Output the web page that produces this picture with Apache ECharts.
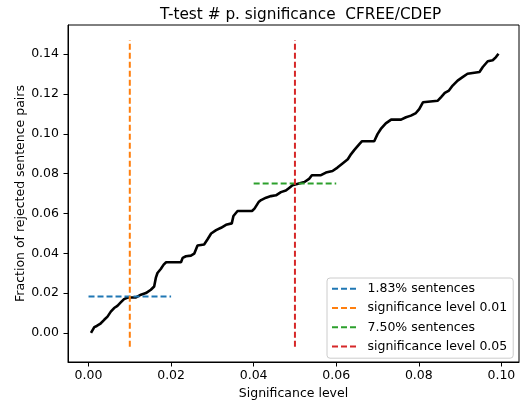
<!DOCTYPE html>
<html>
<head>
<meta charset="utf-8">
<script src="https://cdn.jsdelivr.net/npm/echarts@6/dist/echarts.min.js"></script>
<style>html,body{margin:0;padding:0;background:#fff}#c{width:521px;height:405px}</style>
</head>
<body>
<div id="c"></div>
<script>
// Cumulative fraction of rejected pairs vs significance level
const curveX = [0.0006,0.0014,0.0020,0.0028,0.0038,0.0046,0.0054,0.0062,0.0070,0.0078,0.0086,0.0095,0.0115,0.0127,0.0139,0.0151,0.0159,0.0163,0.0167,0.0175,0.0182,0.0188,0.0224,0.0228,0.0236,0.0248,0.0256,0.0264,0.0280,0.0288,0.0297,0.0309,0.0321,0.0333,0.0347,0.0351,0.0361,0.0396,0.0402,0.0412,0.0418,0.0430,0.0442,0.0454,0.0466,0.0478,0.0486,0.0494,0.0503,0.0506,0.0523,0.0535,0.0541,0.0563,0.0575,0.0591,0.0603,0.0616,0.0628,0.0636,0.0644,0.0656,0.0662,0.0692,0.0700,0.0708,0.0720,0.0733,0.0757,0.0769,0.0781,0.0793,0.0801,0.0810,0.0846,0.0854,0.0863,0.0873,0.0882,0.0894,0.0906,0.0918,0.0922,0.0947,0.0955,0.0967,0.0979,0.0987,0.0993];
const curveY = [0.0000,0.0029,0.0035,0.0045,0.0066,0.0082,0.0107,0.0125,0.0136,0.0153,0.0170,0.0178,0.0178,0.0192,0.0200,0.0217,0.0233,0.0276,0.0301,0.0321,0.0343,0.0355,0.0355,0.0377,0.0385,0.0388,0.0398,0.0439,0.0444,0.0469,0.0499,0.0516,0.0528,0.0543,0.0550,0.0587,0.0612,0.0612,0.0624,0.0657,0.0667,0.0679,0.0687,0.0691,0.0707,0.0715,0.0728,0.0741,0.0746,0.0751,0.0758,0.0775,0.0792,0.0792,0.0805,0.0813,0.0830,0.0852,0.0872,0.0898,0.0919,0.0948,0.0962,0.0962,0.0998,0.1024,0.1052,0.1071,0.1071,0.1083,0.1091,0.1104,0.1124,0.1158,0.1166,0.1184,0.1205,0.1217,0.1242,0.1267,0.1284,0.1301,0.1310,0.1310,0.1335,0.1364,0.1369,0.1385,0.1402];

// Reference lines
const blueX = [0, 0.02];     const blueY = [0.0183, 0.0183];
const orangeX = [0.01, 0.01]; const orangeY = [-0.0069, 0.1469];
const greenX = [0.04, 0.06];  const greenY = [0.075, 0.075];
const redX = [0.05, 0.05];    const redY = [-0.0069, 0.1469];

const legendNames = ['1.83% sentences','significance level 0.01','7.50% sentences','significance level 0.05'];
const xTicks = [0, 0.02, 0.04, 0.06, 0.08, 0.10];
const yTicks = [0, 0.02, 0.04, 0.06, 0.08, 0.10, 0.12, 0.14];

const FONT = 'DejaVu Sans';
const DASH_ICON = 'path://M0,0h6v2H0zM9,0h6v2H9zM18,0h6v2H18z';
const zip = (a, b) => a.map((v, i) => [v, b[i]]);

const chart = echarts.init(document.getElementById('c'), null, {renderer: 'canvas'});
const dashed = (name, color, xs, ys) => ({
  name, type: 'line', data: zip(xs, ys), symbol: 'none', silent: true,
  lineStyle: {color, width: 2, type: [6, 3]}, itemStyle: {color}, z: 3
});
const axisCommon = {
  axisLine: {show: true, onZero: false, lineStyle: {color: '#000', width: 1}},
  splitLine: {show: false},
  nameMoveOverlap: false,
  nameTextStyle: {fontFamily: FONT, fontSize: 12.5, color: '#000'}
};
chart.setOption({
  animation: false,
  backgroundColor: '#fff',
  title: {
    text: 'T-test # p. significance  CFREE/CDEP',
    left: 155, top: 3,
    textStyle: {fontFamily: FONT, fontSize: 15.3, fontWeight: 'normal', color: '#000'}
  },
  grid: {left: 68, right: 2, top: 25, bottom: 43, show: true, borderColor: '#000', borderWidth: 1, backgroundColor: 'transparent'},
  legend: {
    data: legendNames.map(n => ({name: n, icon: DASH_ICON})),
    left: 327, top: 278,
    orient: 'vertical',
    itemWidth: 25, itemHeight: 2, itemGap: 4,
    padding: [3, 6, 4, 5],
    borderColor: '#ccc', borderWidth: 1, borderRadius: 3,
    backgroundColor: 'rgba(255,255,255,0.8)',
    textStyle: {fontFamily: FONT, fontSize: 12.5, color: '#000', padding: [0, 0, 0, 6], lineHeight: 15.3}
  },
  xAxis: Object.assign({}, axisCommon, {
    type: 'value', min: -0.00497, max: 0.10427,
    name: 'Significance level', nameLocation: 'middle', nameGap: 25,
    axisTick: {show: true, length: 4.5, lineStyle: {color: '#000'}, customValues: xTicks},
    axisLabel: {fontFamily: FONT, fontSize: 12.5, color: '#000', margin: 7, customValues: xTicks, formatter: v => v.toFixed(2)}
  }),
  yAxis: Object.assign({}, axisCommon, {
    type: 'value', min: -0.01459, max: 0.1546,
    name: 'Fraction of rejected sentence pairs', nameLocation: 'middle', nameGap: 41,
    axisTick: {show: true, length: 4.5, lineStyle: {color: '#000'}, customValues: yTicks},
    axisLabel: {fontFamily: FONT, fontSize: 12.5, color: '#000', margin: 9, customValues: yTicks, formatter: v => v.toFixed(2)}
  }),
  series: [
    {name: 'curve', type: 'line', data: zip(curveX, curveY), symbol: 'none', silent: true,
     lineStyle: {color: '#000', width: 2.6}, z: 2},
    dashed(legendNames[0], '#1f77b4', blueX, blueY),
    dashed(legendNames[1], '#ff7f0e', orangeX, orangeY),
    dashed(legendNames[2], '#2ca02c', greenX, greenY),
    dashed(legendNames[3], '#d62728', redX, redY)
  ]
});
</script>
</body>
</html>
